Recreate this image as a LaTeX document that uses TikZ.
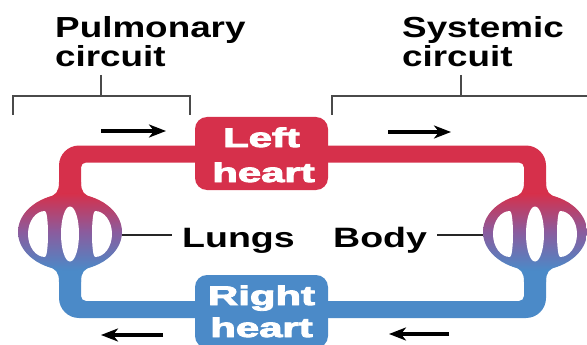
\documentclass[tikz,border=0pt]{standalone}
\usepackage{fontspec}
\setmainfont{Liberation Sans}
\newfontfamily\heavyfont[FakeBold=3]{Liberation Sans Bold}
\usetikzlibrary{arrows.meta,calc,shapes.geometric}
\definecolor{pipered}{HTML}{D6304B}
\definecolor{pipeblue}{HTML}{4B8AC8}
\definecolor{organmid}{HTML}{8A5C9E}
\definecolor{bracketgray}{HTML}{4A4A4A}
\begin{document}
\begin{tikzpicture}[x=1pt,y=-1pt,
  titletext/.style={anchor=base west, inner sep=0pt, text=black, font=\fontsize{29}{29}\selectfont\bfseries},
  organlabel/.style={anchor=base west, inner sep=0pt, text=black, font=\fontsize{28}{28}\selectfont\bfseries},
  hearttext/.style={anchor=base, inner sep=0pt, text=white, font=\fontsize{27}{27}\selectfont\heavyfont},
  heartbox/.style={rounded corners=12pt, minimum width=133pt, minimum height=73pt, inner sep=0pt},
  organ/.style={ellipse, minimum width=104pt, minimum height=77pt, inner sep=0pt,
     top color=pipered, bottom color=pipeblue, middle color=organmid},
  bracket/.style={draw=bracketgray, line width=1.8pt},
  flow/.style={line width=3.5pt, -{Stealth[length=17pt,width=13pt,inset=5pt]}},
  pointer/.style={line width=1.4pt, draw=black!85}]
\useasboundingbox (0,0) rectangle (587,345);

% organ centres
\coordinate (lungsc) at (70,232);
\coordinate (bodyc) at (535,232);

% pipes
\fill[pipered] (59,225) [rounded corners=20pt] -- (59,145.5) -- (546,145.5) -- (546,225) [sharp corners] -- (524,225) [rounded corners=5pt] -- (524,162.5) -- (81,162.5) -- (81,225) [sharp corners] -- cycle;
\fill[pipeblue] (59,240) [rounded corners=20pt] -- (59,318) -- (546,318) -- (546,240) [sharp corners] -- (524,240) [rounded corners=5pt] -- (524,301) -- (81,301) -- (81,240) [sharp corners] -- cycle;

% flares where the pipes join the organs
\foreach \c in {lungsc,bodyc}{
  \begin{scope}[shift={(\c)}]
    \fill[pipered] (-11,-50) .. controls (-11,-40) and (-14,-37) .. (-23,-34) -- (23,-34) .. controls (14,-37) and (11,-40) .. (11,-50) -- cycle;
    \fill[pipeblue] (-11,50) .. controls (-11,40) and (-14,37) .. (-23,34) -- (23,34) .. controls (14,37) and (11,40) .. (11,50) -- cycle;
  \end{scope}
}

% organs
\node[organ] (lungs) at (lungsc) {};
\node[organ] (body) at (bodyc) {};
\foreach \c in {lungs,body}{
  \begin{scope}[shift={(\c.center)}]
    \fill[white] (-25,-21) arc[start angle=270, end angle=90, x radius=17, y radius=23]
                 arc[start angle=90, end angle=-90, x radius=3, y radius=23] -- cycle;
    \fill[white] (25,-21) arc[start angle=270, end angle=450, x radius=17, y radius=23]
                 arc[start angle=90, end angle=270, x radius=3, y radius=23] -- cycle;
    \fill[white] (0,2) ellipse[x radius=9, y radius=27.5];
  \end{scope}
}

% hearts
\node[heartbox, fill=pipered] (lh) at (261.5,153.5) {};
\node[heartbox, fill=pipeblue] (rh) at (261.5,311.5) {};
\node[hearttext] (lht1) at (261.5,147) {\scalebox{1.55}[1]{Left}};
\node[hearttext] (lht2) at (263.5,182) {\scalebox{1.55}[1]{heart}};
\node[hearttext] (rht1) at (261.5,305) {\scalebox{1.55}[1]{Right}};
\node[hearttext] (rht2) at (261.5,337) {\scalebox{1.55}[1]{heart}};

% organ labels
\node[organlabel] (lungstext) at (182,247) {\scalebox{1.34}[1]{Lungs}};
\node[organlabel] (bodytext) at (333,247) {\scalebox{1.34}[1]{Body}};
\draw[pointer] ($(lungs.east)+(0,3)$) -- ($(lungs.east -| lungstext.west)+(-10,3)$);
\draw[pointer] ($(body.west)+(0,3)$) -- ($(body.west -| bodytext.east)+(10,3)$);

% titles
\node[titletext] (pul1) at (55,38) {\scalebox{1.27}[1]{Pulmonary}};
\node[titletext] (pul2) at (55,67) {\scalebox{1.27}[1]{circuit}};
\node[titletext] (sys1) at (402,38) {\scalebox{1.27}[1]{Systemic}};
\node[titletext] (sys2) at (402,67) {\scalebox{1.27}[1]{circuit}};

% brackets
\coordinate (pbl) at (13,115);
\coordinate (pbr) at (190,115);
\coordinate (pbc) at (101,75);
\coordinate (sbl) at (332,115);
\coordinate (sbr) at (590,96);
\coordinate (sbc) at (461,75);
\draw[bracket] (pbl) -- (13,96) -- (190,96) -- (pbr);
\draw[bracket] (pbc) -- (101,96);
\draw[bracket] (sbl) -- (332,96) -- (sbr);
\draw[bracket] (sbc) -- (461,96);

% flow arrows
\coordinate (a1s) at (101,131); \coordinate (a1e) at (166,131);
\coordinate (a2s) at (388,132); \coordinate (a2e) at (451,132);
\coordinate (a3s) at (163,335); \coordinate (a3e) at (101,335);
\coordinate (a4s) at (449,334); \coordinate (a4e) at (389,334);
\draw[flow] (a1s) -- (a1e);
\draw[flow] (a2s) -- (a2e);
\draw[flow] (a3s) -- (a3e);
\draw[flow] (a4s) -- (a4e);
\end{tikzpicture}
\end{document}
